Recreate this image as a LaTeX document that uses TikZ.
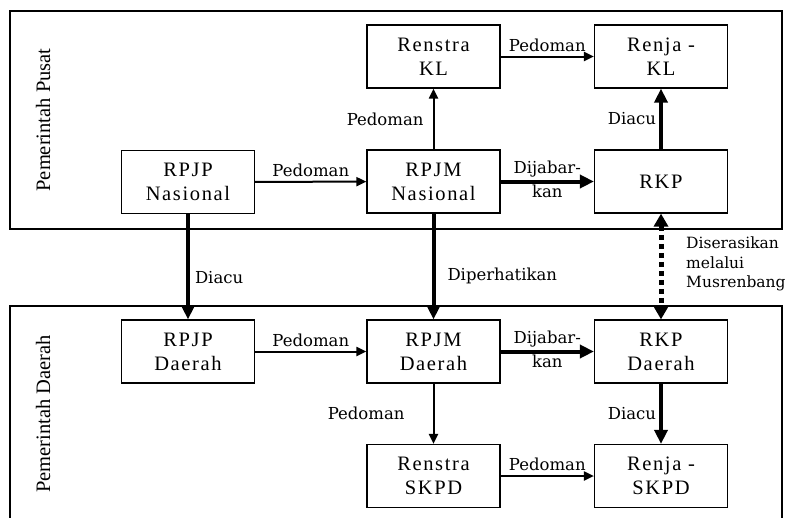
\documentclass[tikz,border=0pt]{standalone}
\usepackage{fontspec}
\setmainfont{Liberation Serif}
\newfontfamily\boxfont[LetterSpace=8]{Liberation Serif}
\newfontfamily\labfont{DejaVu Serif}
\usetikzlibrary{arrows.meta}
\begin{document}
\begin{tikzpicture}[x=1pt,y=-1pt,
  box/.style={draw, line width=1.2pt, minimum width=133pt, minimum height=63pt, inner sep=0pt, align=center, font=\boxfont\fontsize{20.5}{24}\selectfont},
  lab/.style={font=\labfont\fontsize{16.5}{20}\selectfont, inner sep=1pt},
  side/.style={rotate=90, font=\fontsize{20.5}{24}\selectfont},
  thinarr/.style={line width=2pt, -{Triangle[length=10pt,width=9pt]}},
  thickarr/.style={line width=4pt, -{Triangle[length=14pt,width=13pt]}},
  dotarr/.style={line width=5pt, dash pattern=on 5pt off 4pt, {Triangle[length=13pt,width=14pt]}-{Triangle[length=13pt,width=14pt]}},
  frame/.style={line width=1.3pt}]
\useasboundingbox (0,0) rectangle (790,517);
% frames
\draw[frame] (10,11) rectangle (782,229);
\draw[frame] (10,525) -- (10,306) -- (782,306) -- (782,525);
\node[side] (pusat) at (43,120) {Pemerintah Pusat};
\node[side] (daerah) at (43,414) {Pemerintah Daerah};
% nodes
\node[box] (rpjpn) at (188,182) {RPJP\\Nasional};
\node[box] (renstrakl) at (433.5,56.5) {Renstra\\KL};
\node[box] (rpjmn) at (433.5,181.5) {RPJM\\Nasional};
\node[box] (renjakl) at (661,56.5) {Renja -\\KL};
\node[box] (rkp) at (661,181.5) {RKP};
\node[box] (rpjpd) at (188,351.5) {RPJP\\Daerah};
\node[box] (rpjmd) at (433.5,351.5) {RPJM\\Daerah};
\node[box] (rkpd) at (661,351.5) {RKP\\Daerah};
\node[box] (renstraskpd) at (433.5,476) {Renstra\\SKPD};
\node[box] (renjaskpd) at (661,476) {Renja -\\SKPD};
% connectors top
\draw[thinarr] (rpjpn) -- node[lab, above=3pt] {Pedoman} (rpjmn);
\draw[thinarr] (rpjmn) -- node[lab, left=8pt] {Pedoman} (renstrakl);
\draw[thinarr] (renstrakl) -- node[lab, above=3pt] {Pedoman} (renjakl);
\draw[thickarr] (rpjmn) -- node[lab, above=1pt] {Dijabar-} node[lab, below=0pt] {kan} (rkp);
\draw[thickarr] (rkp) -- node[lab, left=2pt] {Diacu} (renjakl);
% between
\draw[thickarr] (rpjpn) -- node[lab, right=4pt, pos=0.6] {Diacu} (rpjpd);
\draw[thickarr] (rpjmn) -- node[lab, right=11pt, pos=0.59] {Diperhatikan} (rpjmd);
\draw[dotarr] (rkp) -- (rkpd);
\node[lab, anchor=north west, align=left, font=\labfont\fontsize{15.5}{19.5}\selectfont] (ser) at (685,236) {Diserasikan\\melalui\\Musrenbang};
% connectors bottom
\draw[thinarr] (rpjpd) -- node[lab, above=3pt] {Pedoman} (rpjmd);
\draw[thickarr] (rpjmd) -- node[lab, above=1pt] {Dijabar-} node[lab, below=0pt] {kan} (rkpd);
\draw[thinarr] (rpjmd) -- node[lab, left=27pt] {Pedoman} (renstraskpd);
\draw[thickarr] (rkpd) -- node[lab, left=2pt] {Diacu} (renjaskpd);
\draw[thinarr] (renstraskpd) -- node[lab, above=3pt] {Pedoman} (renjaskpd);
\end{tikzpicture}
\end{document}
